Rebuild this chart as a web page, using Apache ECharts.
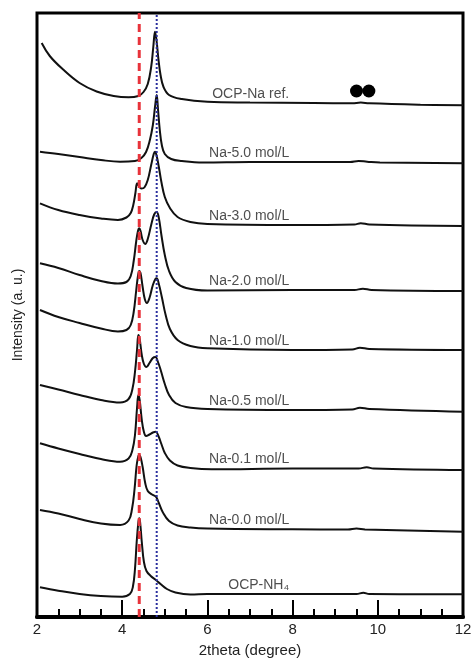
<!DOCTYPE html>
<html><head><meta charset="utf-8">
<script src="https://cdn.jsdelivr.net/npm/echarts@6/dist/echarts.min.js"></script>
<style>html,body{margin:0;padding:0;background:#fff}#c{width:473px;height:660px}</style>
</head><body><div id="c"></div>
<script>
// ---- data (2theta in degree, intensity in arbitrary stacked units) ----
const seriesNames = ['OCP-Na ref.', 'Na-5.0 mol/L', 'Na-3.0 mol/L', 'Na-2.0 mol/L', 'Na-1.0 mol/L',
  'Na-0.5 mol/L', 'Na-0.1 mol/L', 'Na-0.0 mol/L', 'OCP-NH\u2084'];

const ocpNaRef = [[2.11,574],[2.3,561],[2.6,548],[3.0,534],[3.4,525.5],[3.8,521],[4.15,519.7],[4.38,521],[4.5,525],
  [4.6,533],[4.68,550],[4.73,570],[4.77,585.3],[4.81,575],[4.85,558],[4.9,542],[4.97,530],[5.1,522],[5.4,518],
  [6.0,515.3],[7.0,514.5],[8.5,514],[9.4,513.7],[9.6,514.5],[9.8,513.7],[11,512.3],[12,511.7]];
const na50 = [[2.07,465.3],[2.5,463],[3.0,460],[3.5,457],[3.95,455.3],[4.3,456],[4.45,459],[4.56,465],[4.65,477],
  [4.72,492],[4.77,510],[4.81,522],[4.84,508],[4.88,488],[4.93,472],[5.0,463],[5.15,458],[5.4,456],[5.9,454.5],
  [7.0,455],[9.35,455],[9.55,456],[9.75,455.3],[10.05,454.5],[12,453.7]];
const na30 = [[2.07,413.7],[2.5,407],[3.0,402],[3.5,398.5],[3.9,397],[4.1,399.5],[4.2,404],[4.26,412],[4.31,424],
  [4.35,433.7],[4.39,431],[4.45,428.5],[4.52,429.5],[4.6,437],[4.68,452],[4.74,463],[4.77,465.3],[4.81,461],
  [4.86,450],[4.92,435],[5.0,420],[5.12,409],[5.3,400],[5.6,395],[6.0,393],[8.0,392],[9.45,392.5],[9.6,393.8],
  [9.8,392.5],[12,391]];
const na20 = [[2.07,353.7],[2.5,349],[3.0,342],[3.5,336],[3.9,333.5],[4.1,335],[4.2,341],[4.27,356],[4.33,376],
  [4.37,386],[4.40,388.7],[4.43,386],[4.48,377],[4.54,373],[4.6,378],[4.68,392],[4.75,402.5],[4.81,405],[4.86,399],
  [4.92,382],[5.0,362],[5.1,346],[5.25,335],[5.5,329],[6.0,326.5],[8.0,327],[9.45,327],[9.65,328.3],[9.85,327],
  [12,326]];
const na10 = [[2.07,307],[2.5,300],[3.0,294],[3.5,288.5],[3.9,285.5],[4.1,287],[4.2,292],[4.27,305],[4.33,327],
  [4.37,341],[4.40,346],[4.43,344],[4.48,330],[4.53,318],[4.58,314],[4.64,319],[4.72,332],[4.78,338],[4.81,338.7],
  [4.86,333],[4.93,320],[5.02,302],[5.12,288],[5.3,277],[5.6,271],[6.0,268.7],[8.0,267],[9.4,267.5],[9.58,269.3],
  [9.8,268],[12,267]];
const na05 = [[2.07,232],[2.5,227.5],[3.0,222],[3.5,217],[3.95,214.5],[4.15,218],[4.24,228],[4.3,245],[4.35,268],
  [4.38,282],[4.41,278],[4.46,262],[4.51,253],[4.57,250],[4.64,254],[4.72,259],[4.78,260],[4.84,255],[4.91,246],
  [5.0,233],[5.1,222],[5.25,214],[5.5,210],[6.0,208],[8.0,207],[9.4,207.5],[9.58,209.3],[9.8,208],[12,205.3]];
const na01 = [[2.07,173.7],[2.5,168.5],[3.0,163],[3.5,158],[3.95,155.3],[4.15,158.5],[4.24,167],[4.3,182],[4.35,210],
  [4.38,222],[4.41,217],[4.46,197],[4.51,185],[4.56,181],[4.64,182.5],[4.72,184.5],[4.79,185.3],[4.85,181],[4.92,173],
  [5.0,164],[5.12,156.5],[5.3,151.5],[5.6,149],[6.1,147.7],[8.0,148.5],[9.55,148.5],[9.74,149.8],[9.9,148.5],
  [12,147]];
const na00 = [[2.07,107],[2.5,103.5],[3.0,98],[3.5,93.5],[3.95,92],[4.15,96.5],[4.23,108],[4.29,128],[4.34,152],
  [4.38,161],[4.40,162],[4.43,160],[4.48,150],[4.54,134],[4.6,126],[4.7,122.5],[4.79,120.3],[4.86,114],[4.95,105],
  [5.1,96],[5.3,91.5],[5.6,89.5],[6.0,88.5],[8.0,87.7],[9.3,87.5],[9.5,88.5],[9.7,87.5],[12,85.3]];
const ocpNH4 = [[2.07,29.7],[2.5,26.3],[3.0,23],[3.5,21],[4.0,20.3],[4.18,23],[4.25,30],[4.3,48],[4.34,75],[4.38,95],
  [4.40,98.7],[4.42,95],[4.46,75],[4.51,55],[4.57,46],[4.67,41],[4.79,37],[4.9,33],[5.05,28],[5.25,24.5],[5.6,22.5],
  [6.0,23],[8.0,23],[9.5,23],[9.66,24.2],[9.8,23],[12,22.7]];

const curves = [ocpNaRef, na50, na30, na20, na10, na05, na01, na00, ocpNH4];

const refLineRed = 4.4;    // red dashed reference
const refLineBlue = 4.81;  // blue dotted reference
const markerX = [9.50, 9.79];
const markerY = [526, 526];

const xTicks = [2, 4, 6, 8, 10, 12];

// ---- layout / styles ----
const Y_MAX = 604;
const LABEL_X = 7.92;
const LABEL_DY = 9;

function yAt(arr, x) {
  for (let i = 1; i < arr.length; i++) {
    if (arr[i][0] >= x) {
      const [x0, y0] = arr[i - 1], [x1, y1] = arr[i];
      return y0 + (y1 - y0) * (x - x0) / (x1 - x0);
    }
  }
  return arr[arr.length - 1][1];
}

const series = curves.map((d, i) => ({
  name: seriesNames[i], type: 'line', data: d, smooth: 0.4,
  showSymbol: false, symbol: 'none', lineStyle: { color: '#111', width: 2 }, z: 3, silent: true
}));

series.push({
  type: 'scatter', symbolSize: 0, silent: true, z: 4,
  data: curves.map((d, i) => ({ value: [LABEL_X, yAt(d, LABEL_X) + LABEL_DY], name: seriesNames[i] })),
  label: { show: true, position: 'inside', align: 'right', verticalAlign: 'middle',
    formatter: p => p.name, color: '#222', fontSize: 14, fontFamily: 'Liberation Sans, Arial, sans-serif' }
});

series.push({
  type: 'scatter', symbol: 'circle', symbolSize: 13, silent: true, z: 5,
  itemStyle: { color: '#000', opacity: 1 },
  data: markerX.map((x, i) => [x, markerY[i]])
});

series.push({
  type: 'line', data: [[refLineRed, 0], [refLineRed, Y_MAX]], symbol: 'none', silent: true, z: 6,
  lineStyle: { color: '#e8333b', width: 3, type: [8, 5] }
});
series.push({
  type: 'line', data: [[refLineBlue, 0], [refLineBlue, Y_MAX]], symbol: 'none', silent: true, z: 6,
  lineStyle: { color: '#2b2f9e', width: 2, type: [2, 2] }
});

const chart = echarts.init(document.getElementById('c'), null, { renderer: 'canvas' });
chart.setOption({
  animation: false,
  backgroundColor: '#fff',
  grid: { left: 37, right: 10, top: 13, bottom: 43, show: true, borderColor: '#000', borderWidth: 3,
    outerBoundsMode: 'none', containLabel: false },
  xAxis: {
    type: 'value', min: 2, max: 12, interval: 2,
    name: '2theta (degree)', nameLocation: 'middle', nameGap: 26,
    nameTextStyle: { fontSize: 15, color: '#222', fontFamily: 'Liberation Sans, Arial, sans-serif' },
    axisLine: { show: true, lineStyle: { color: '#000', width: 4 } },
    axisTick: { show: true, inside: true, length: 17, lineStyle: { color: '#000', width: 2 } },
    minorTick: { show: true, splitNumber: 4, length: 8, lineStyle: { color: '#000', width: 2 } },
    axisLabel: { fontSize: 15, color: '#222', margin: 5, fontFamily: 'Liberation Sans, Arial, sans-serif',
      formatter: v => xTicks.includes(v) ? String(v) : '' },
    splitLine: { show: false }
  },
  yAxis: {
    type: 'value', min: 0, max: Y_MAX,
    name: 'Intensity (a. u.)', nameLocation: 'middle', nameGap: 12,
    nameTextStyle: { fontSize: 14, color: '#222', fontFamily: 'Liberation Sans, Arial, sans-serif' },
    axisLine: { show: false }, axisTick: { show: false }, axisLabel: { show: false },
    splitLine: { show: false }
  },
  series: series
});
</script>
</body></html>
